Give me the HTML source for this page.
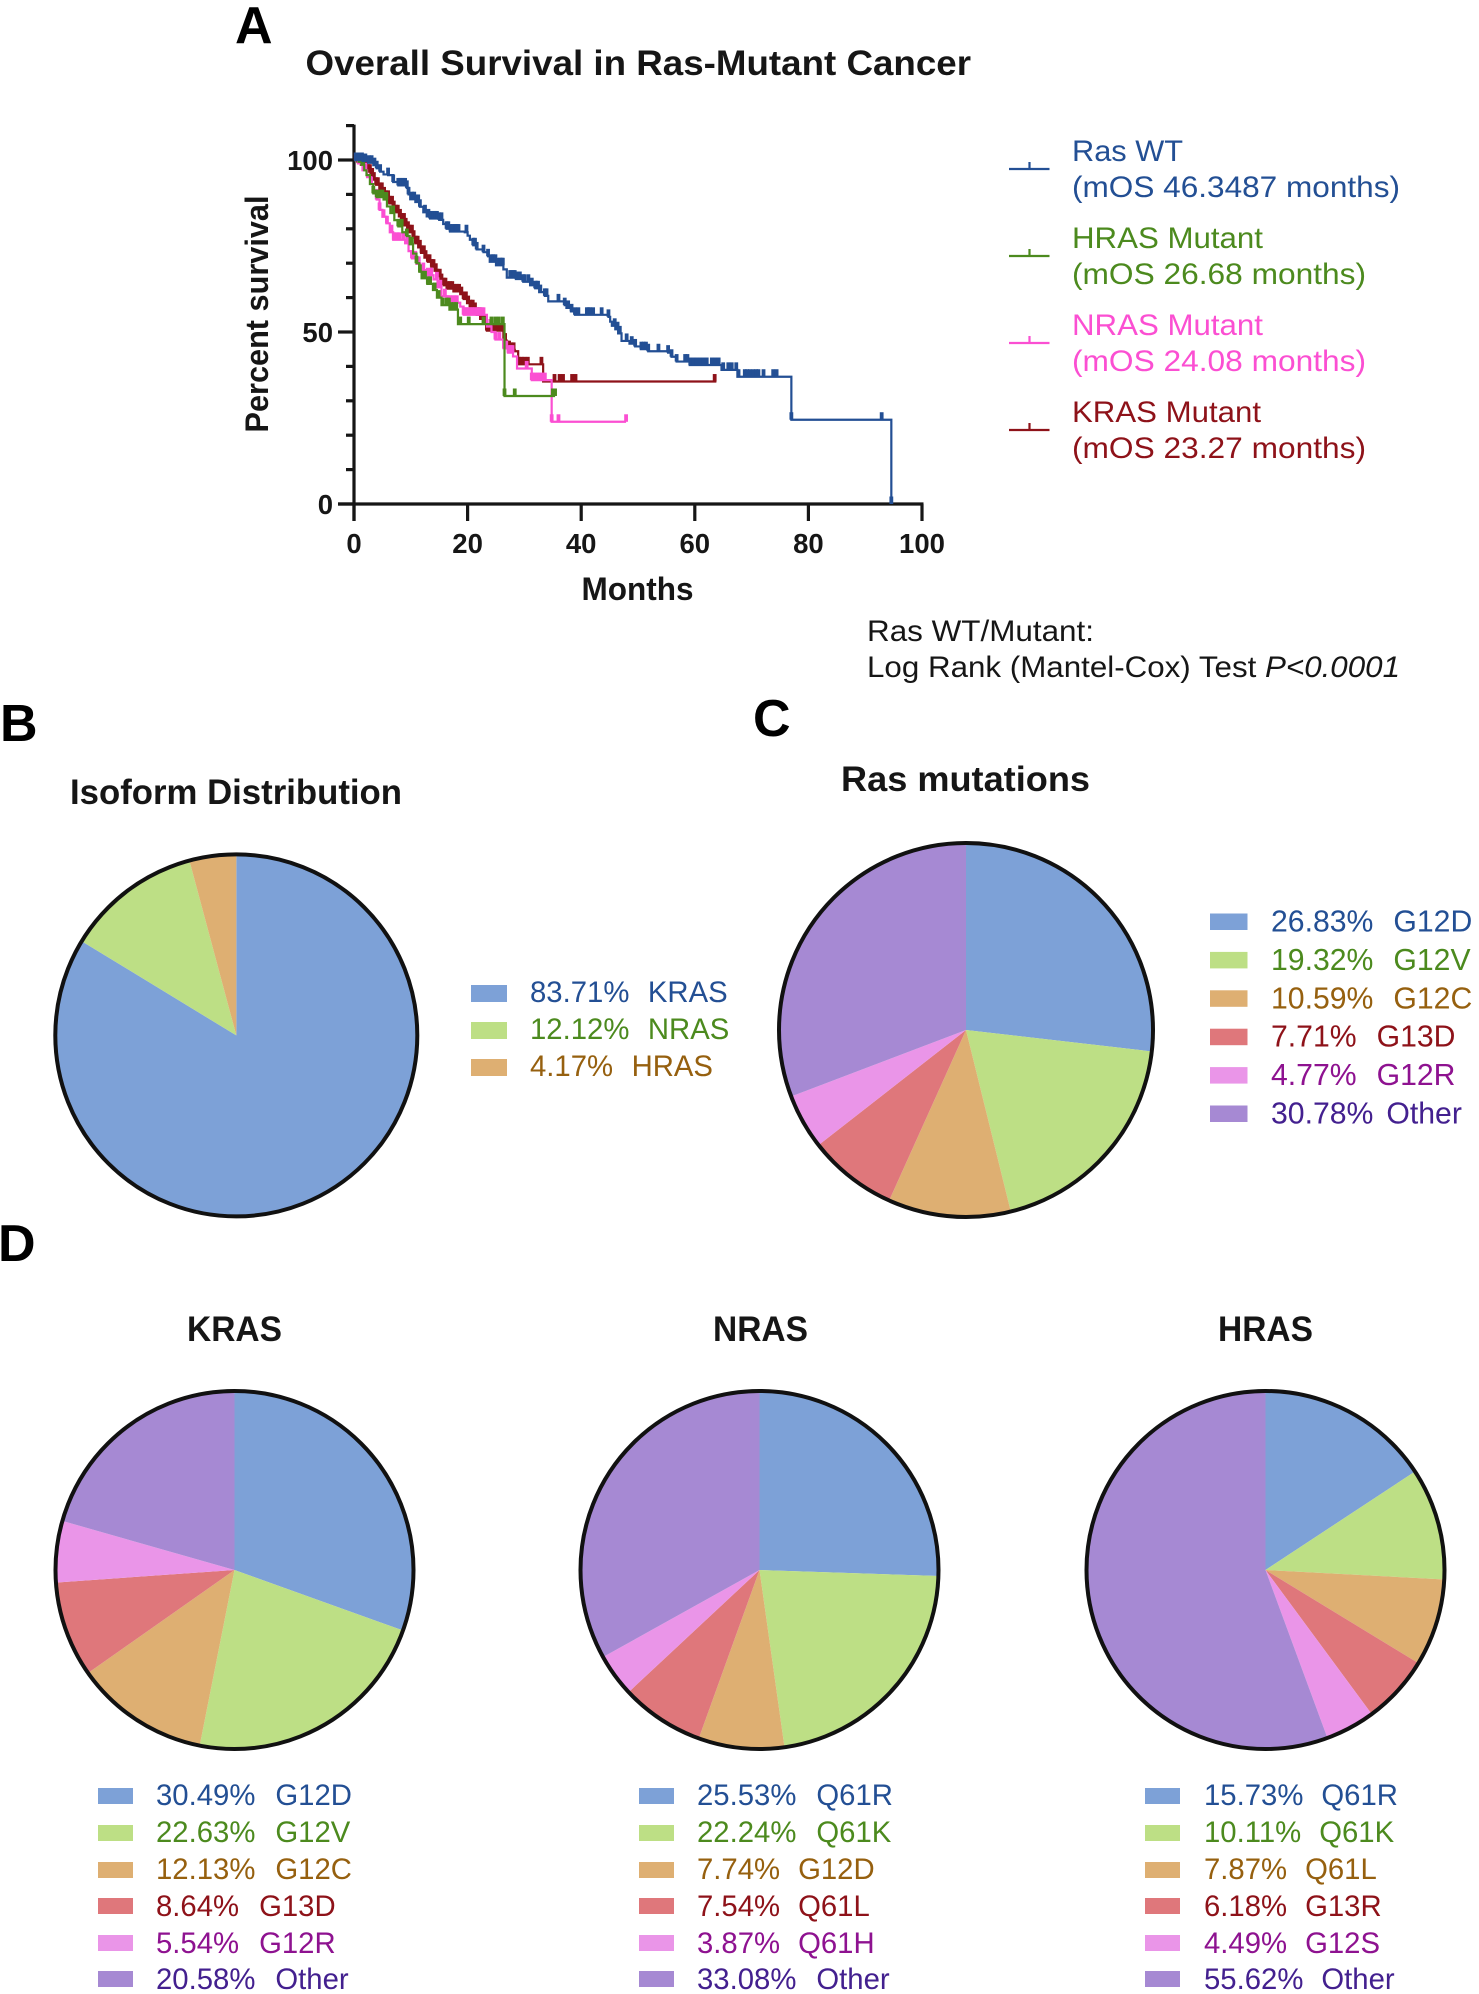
<!DOCTYPE html>
<html lang="en">
<head>
<meta charset="utf-8">
<title>Overall Survival in Ras-Mutant Cancer</title>
<style>
html,body{margin:0;padding:0;background:#fff;}
svg{display:block;font-family:"Liberation Sans",sans-serif;}
.bold{font-weight:700;fill:#161616;}
.panel{font-weight:700;fill:#000;font-size:52px;}
.leg{font-size:29.3px;}
.legc{font-size:30.2px;}
</style>
</head>
<body>
<svg id="figure" width="1479" height="1994" viewBox="0 0 1479 1994" xmlns="http://www.w3.org/2000/svg">
<rect width="1479" height="1994" fill="#fff"/>

<text class="panel" x="235" y="43">A</text>
<text class="bold" x="305.5" y="75" font-size="35.5" textLength="665.5" lengthAdjust="spacingAndGlyphs">Overall Survival in Ras-Mutant Cancer</text>

<g id="km-axes"></g>
<g id="km-series"></g>

<text class="bold" transform="translate(268,314) rotate(-90)" text-anchor="middle" font-size="32" textLength="237" lengthAdjust="spacingAndGlyphs">Percent survival</text>
<text class="bold" x="581.5" y="600" font-size="32.5" textLength="112" lengthAdjust="spacingAndGlyphs">Months</text>

<g font-size="30">
  <g fill="#234f94">
    <path d="M1009 169H1049.5M1029.5 169V162" stroke="#234f94" stroke-width="2.2" fill="none"/>
    <text x="1072" y="161" textLength="111" lengthAdjust="spacingAndGlyphs">Ras WT</text>
    <text x="1072" y="197" textLength="328" lengthAdjust="spacingAndGlyphs">(mOS 46.3487 months)</text>
  </g>
  <g fill="#4c8a1e">
    <path d="M1009 256H1049.5M1029.5 256V249" stroke="#4c8a1e" stroke-width="2.2" fill="none"/>
    <text x="1072" y="248" textLength="191" lengthAdjust="spacingAndGlyphs">HRAS Mutant</text>
    <text x="1072" y="284" textLength="294" lengthAdjust="spacingAndGlyphs">(mOS 26.68 months)</text>
  </g>
  <g fill="#fb4fd2">
    <path d="M1009 343H1049.5M1029.5 343V336" stroke="#fb4fd2" stroke-width="2.2" fill="none"/>
    <text x="1072" y="335" textLength="191" lengthAdjust="spacingAndGlyphs">NRAS Mutant</text>
    <text x="1072" y="371" textLength="294" lengthAdjust="spacingAndGlyphs">(mOS 24.08 months)</text>
  </g>
  <g fill="#8e1219">
    <path d="M1009 430H1049.5M1029.5 430V423" stroke="#8e1219" stroke-width="2.2" fill="none"/>
    <text x="1072" y="422" textLength="189" lengthAdjust="spacingAndGlyphs">KRAS Mutant</text>
    <text x="1072" y="458" textLength="294" lengthAdjust="spacingAndGlyphs">(mOS 23.27 months)</text>
  </g>
</g>

<text x="867" y="641" font-size="30" fill="#161616" textLength="227" lengthAdjust="spacingAndGlyphs">Ras WT/Mutant:</text>
<text x="867" y="677" font-size="30" fill="#161616" textLength="533" lengthAdjust="spacingAndGlyphs">Log Rank (Mantel-Cox) Test <tspan font-style="italic">P&lt;0.0001</tspan></text>

<text class="panel" x="0" y="741">B</text>
<text class="bold" x="70" y="804" font-size="35" textLength="332" lengthAdjust="spacingAndGlyphs">Isoform Distribution</text>
<g id="pie-isoform"></g>
<g class="leg">
  <g><rect x="471" y="985" width="36" height="17" fill="#7da1d7"/><text x="530" y="1002" fill="#234f94">83.71%<tspan dx="18.5">KRAS</tspan></text></g>
  <g><rect x="471" y="1022" width="36" height="17" fill="#bddf85"/><text x="530" y="1039" fill="#4c8a1e">12.12%<tspan dx="18.5">NRAS</tspan></text></g>
  <g><rect x="471" y="1059" width="36" height="17" fill="#deaf72"/><text x="530" y="1076" fill="#96600f">4.17%<tspan dx="18.5">HRAS</tspan></text></g>
</g>

<text class="panel" x="753" y="736">C</text>
<text class="bold" x="841" y="791" font-size="35" textLength="249" lengthAdjust="spacingAndGlyphs">Ras mutations</text>
<g id="pie-mutations"></g>
<g class="legc">
  <g><rect x="1210" y="913.5" width="37.5" height="16.5" fill="#7da1d7"/><text x="1271" y="931.5" fill="#234f94">26.83%<tspan dx="20">G12D</tspan></text></g>
  <g><rect x="1210" y="951.9" width="37.5" height="16.5" fill="#bddf85"/><text x="1271" y="969.9" fill="#4c8a1e">19.32%<tspan dx="20">G12V</tspan></text></g>
  <g><rect x="1210" y="990.3" width="37.5" height="16.5" fill="#deaf72"/><text x="1271" y="1008.3" fill="#96600f">10.59%<tspan dx="20">G12C</tspan></text></g>
  <g><rect x="1210" y="1028.7" width="37.5" height="16.5" fill="#df777b"/><text x="1271" y="1046.7" fill="#8e1219">7.71%<tspan dx="20">G13D</tspan></text></g>
  <g><rect x="1210" y="1067.1" width="37.5" height="16.5" fill="#ea95e8"/><text x="1271" y="1085.1" fill="#8e1290">4.77%<tspan dx="20">G12R</tspan></text></g>
  <g><rect x="1210" y="1105.5" width="37.5" height="16.5" fill="#a689d3"/><text x="1271" y="1123.5" fill="#43208f">30.78%<tspan dx="13">Other</tspan></text></g>
</g>

<text class="panel" x="-2" y="1261">D</text>
<text class="bold" x="234.5" y="1341" font-size="35" text-anchor="middle" textLength="95" lengthAdjust="spacingAndGlyphs">KRAS</text>
<text class="bold" x="760.5" y="1341" font-size="35" text-anchor="middle" textLength="95" lengthAdjust="spacingAndGlyphs">NRAS</text>
<text class="bold" x="1265.5" y="1341" font-size="35" text-anchor="middle" textLength="95" lengthAdjust="spacingAndGlyphs">HRAS</text>
<g id="pie-kras"></g>
<g id="pie-nras"></g>
<g id="pie-hras"></g>

<g class="leg">
  <g><rect x="98" y="1788" width="35" height="16" fill="#7da1d7"/><text x="156" y="1805" fill="#234f94">30.49%<tspan dx="20">G12D</tspan></text></g>
  <g><rect x="98" y="1825" width="35" height="16" fill="#bddf85"/><text x="156" y="1842" fill="#4c8a1e">22.63%<tspan dx="20">G12V</tspan></text></g>
  <g><rect x="98" y="1862" width="35" height="16" fill="#deaf72"/><text x="156" y="1879" fill="#96600f">12.13%<tspan dx="20">G12C</tspan></text></g>
  <g><rect x="98" y="1898" width="35" height="16" fill="#df777b"/><text x="156" y="1916" fill="#8e1219">8.64%<tspan dx="20">G13D</tspan></text></g>
  <g><rect x="98" y="1935" width="35" height="16" fill="#ea95e8"/><text x="156" y="1953" fill="#8e1290">5.54%<tspan dx="20">G12R</tspan></text></g>
  <g><rect x="98" y="1971" width="35" height="16" fill="#a689d3"/><text x="156" y="1989" fill="#43208f">20.58%<tspan dx="20">Other</tspan></text></g>
</g>
<g class="leg">
  <g><rect x="639" y="1788" width="35" height="16" fill="#7da1d7"/><text x="697" y="1805" fill="#234f94">25.53%<tspan dx="20">Q61R</tspan></text></g>
  <g><rect x="639" y="1825" width="35" height="16" fill="#bddf85"/><text x="697" y="1842" fill="#4c8a1e">22.24%<tspan dx="20">Q61K</tspan></text></g>
  <g><rect x="639" y="1862" width="35" height="16" fill="#deaf72"/><text x="697" y="1879" fill="#96600f">7.74%<tspan dx="18">G12D</tspan></text></g>
  <g><rect x="639" y="1898" width="35" height="16" fill="#df777b"/><text x="697" y="1916" fill="#8e1219">7.54%<tspan dx="18">Q61L</tspan></text></g>
  <g><rect x="639" y="1935" width="35" height="16" fill="#ea95e8"/><text x="697" y="1953" fill="#8e1290">3.87%<tspan dx="18">Q61H</tspan></text></g>
  <g><rect x="639" y="1971" width="35" height="16" fill="#a689d3"/><text x="697" y="1989" fill="#43208f">33.08%<tspan dx="20">Other</tspan></text></g>
</g>
<g class="leg">
  <g><rect x="1145" y="1788" width="35" height="16" fill="#7da1d7"/><text x="1204" y="1805" fill="#234f94">15.73%<tspan dx="18">Q61R</tspan></text></g>
  <g><rect x="1145" y="1825" width="35" height="16" fill="#bddf85"/><text x="1204" y="1842" fill="#4c8a1e">10.11%<tspan dx="18">Q61K</tspan></text></g>
  <g><rect x="1145" y="1862" width="35" height="16" fill="#deaf72"/><text x="1204" y="1879" fill="#96600f">7.87%<tspan dx="18">Q61L</tspan></text></g>
  <g><rect x="1145" y="1898" width="35" height="16" fill="#df777b"/><text x="1204" y="1916" fill="#8e1219">6.18%<tspan dx="18">G13R</tspan></text></g>
  <g><rect x="1145" y="1935" width="35" height="16" fill="#ea95e8"/><text x="1204" y="1953" fill="#8e1290">4.49%<tspan dx="18">G12S</tspan></text></g>
  <g><rect x="1145" y="1971" width="35" height="16" fill="#a689d3"/><text x="1204" y="1989" fill="#43208f">55.62%<tspan dx="18">Other</tspan></text></g>
</g>
</svg>

<script>
/* ---------- survival data ---------- */
var xTickLabels = [0, 20, 40, 60, 80, 100];
var yTickLabels = [0, 50, 100];
var yMinorTicks = [10, 20, 30, 40, 60, 70, 80, 90, 110];

var wtMonths = [0,1.5,2.5,3.4,4,4.6,5.2,6,6.9,7.8,9.3,9.6,9.9,10.8,11.6,12.2,12.8,13.4,15,15.7,16.3,16.9,19.5,20,20.4,21,21.6,22.8,23.6,23.9,25,26.3,26.9,28.5,29.8,31,31.9,32.6,33.6,34.2,36.6,37.1,37.4,38.2,38.9,44.8,45.1,45.4,46,46.5,47.1,48.5,49.5,50.5,51.8,55.3,55.9,56.8,59.1,64.7,67.5,77,94.6];
var wtSurvival = [100,99.7,99.2,98.5,97.6,96.6,95.8,95.6,93.6,92.6,91.9,90,88.6,87.8,86.4,84.8,83.6,83,82.6,81.4,80,79.2,79,78,76.8,75.2,74,73.2,72,70.4,69.4,68.2,65.8,65.4,64.6,63.6,62.7,61.6,60.5,58.9,58.9,57.8,57,56,55,54.4,53,51.8,50.8,49.6,47.4,46.6,45.8,45,44.4,44,42.8,41.4,40.4,39,37,24.5,0];
var wtCensored = [0.3,0.8,1.4,2,2.6,3.1,3.6,4,4.6,6,6.9,7.8,8.1,8.4,8.7,9,9.3,9.6,10.2,10.6,11,11.3,11.6,12.5,13.1,13.4,13.7,14,14.3,14.6,15,15.4,16.3,16.6,17,17.4,17.8,18.1,18.4,19.8,21,21.3,21.6,22.8,23.6,24.2,24.5,24.9,25.3,25.7,26,26.2,27.5,27.7,28.1,28.3,28.6,29.2,29.8,30,30.7,31.3,31.9,32.1,32.4,32.8,33.6,33.9,36,37.1,37.7,38.3,38.9,39.5,41,41.3,41.6,42.1,43.6,44.8,45.9,46.4,46.8,48,48.9,49.5,50.6,51,51.4,51.8,53.6,55.3,55.9,56.8,58.3,58.7,59.2,59.8,60.3,60.9,61.5,62.1,63,63.6,64.2,65,65.9,66.5,67.3,67.7,68.8,69.2,69.7,70.3,70.8,71.2,72.1,73.8,74.4,77,92.9,94.6];

var hrasMonths = [0,0.8,1.3,1.8,2.2,2.8,3.4,4,5.2,5.8,6.4,7.1,7.8,8.5,9.3,9.8,10.4,11,11.5,11.9,12.9,13.9,14.6,15.4,16.8,18.3,26.5];
var hrasSurvival = [100,99.5,98.6,97,95.6,93,90.3,89.2,88.5,86.5,84.6,82.5,80.7,79,77.9,75.5,72.8,70,67.5,65.6,64,62.2,60,57.8,56.5,52.3,31.4];
var hrasEndMonth = 35.4;
var hrasCensored = [0.5,1,1.6,3.4,4,4.6,5,5.4,5.7,6.9,7.8,8.4,9.3,10.2,11,11.6,12.1,12.5,13,13.4,14.2,14.9,15.6,16.3,16.7,17.1,17.6,18,18.7,20.2,22.8,24.2,24.9,25.5,26.2,26.5,28.3,35,35.4];

var nrasMonths = [0,0.7,1.5,2.3,3,3.4,4,4.5,5,5.7,6.3,6.9,9,9.6,10.2,11,11.6,12.8,14,14.7,15.4,16.3,18.7,19.3,23.4,24.2,24.9,26.3,27.1,28,28.7,31.3,34.8];
var nrasSurvival = [100,99,97,95,93,91.3,88.5,85.5,83.5,81.6,79,76.8,75.8,73.5,71.4,69.8,68,66.5,65.3,63,60.4,58.5,57.4,55,51.6,50,47.8,45.3,44,42.9,39.4,36,23.9];
var nrasEndMonth = 47.9;
var nrasCensored = [1,2,3,4,4.5,5.2,5.8,6.6,7,7.5,8,8.7,9.4,10.2,10.8,11.4,12.2,13,13.6,14.6,15.2,16,16.5,16.9,17.5,18.1,19.3,19.6,19.9,20.2,20.5,20.8,21,21.3,21.6,21.9,22.2,22.5,22.8,24,24.9,25.6,26.4,26.8,27.2,27.6,27.9,30.4,31.3,31.6,31.9,32.3,32.6,33,33.3,33.6,34.8,36,47.9];

var krasMonths = [0,0.6,1.2,1.8,2.4,2.9,3.4,3.9,4.5,5,5.6,6.2,6.8,7.3,7.9,8.4,8.9,9.4,9.8,10.3,10.8,11.3,11.8,12.4,13,13.6,14.2,14.7,15.2,15.8,16.3,17.5,18.7,19.3,19.9,20.5,21,21.6,22.2,22.8,23.4,26.3,26.9,27.6,28.3,28.9,33.3];
var krasSurvival = [100,99.4,98.6,97.6,96.6,95.5,94.3,92.8,91.3,90,89,87.4,86,84.8,83.6,82.4,81,80,79,77.4,75.8,74.6,73,71.6,70.4,69,67.8,66.2,64.8,63.6,62.6,61.8,61,59.6,58.4,57.2,56.4,55,53.8,52.8,50.4,47.5,45.3,44.8,44.4,40.6,35.6];
var krasEndMonth = 63.8;
var krasCensored = [0.3,0.7,1,1.4,1.7,2.1,2.5,2.8,3.2,3.5,3.9,4.2,4.6,4.9,5.3,5.6,6,6.3,6.7,7,7.4,7.7,8.1,8.4,8.8,9.1,9.5,9.8,10.2,10.5,10.9,11.2,11.6,11.9,12.3,12.6,13,13.3,13.7,14,14.4,14.7,15.1,15.4,15.8,16.1,16.5,16.9,17.3,17.7,18.1,18.5,18.9,19.3,19.7,20.1,20.5,20.9,21.3,21.7,22.1,22.5,23,23.4,23.8,24.2,24.6,25,25.4,25.8,26.2,26.6,27,27.3,27.7,28.1,29,29.5,30,30.6,33,35.3,36.2,36.8,38.4,39,63.5];

/* ---------- pie data (legend percentages) ---------- */
var isoformValues = [83.71, 12.12, 4.17];
var isoformColors = ["#7da1d7", "#bddf85", "#deaf72"];
var mutationValues = [26.83, 19.32, 10.59, 7.71, 4.77, 30.78];
var krasValues = [30.49, 22.63, 12.13, 8.64, 5.54, 20.58];
var nrasValues = [25.53, 22.24, 7.74, 7.54, 3.87, 33.08];
var hrasValues = [15.73, 10.11, 7.87, 6.18, 4.49, 55.62];
var sliceColors = ["#7da1d7", "#bddf85", "#deaf72", "#df777b", "#ea95e8", "#a689d3"];

var NS = "http://www.w3.org/2000/svg";
function mk(tag, parent, attrs) {
  var el = document.createElementNS(NS, tag);
  for (var k in attrs) { el.setAttribute(k, attrs[k]); }
  parent.appendChild(el);
  return el;
}

/* axis functions */
function xScale(month) { return 354 + month * 5.68; }
function yScale(pct) { return 504 - pct * 3.44; }

function drawAxes() {
  var g = document.getElementById("km-axes");
  var axisStyle = { stroke: "#161616", "stroke-width": 3.2, fill: "none" };
  var yAxis = mk("line", g, Object.assign({ x1: xScale(0), x2: xScale(0), y1: yScale(110) - 1, y2: 521 }, axisStyle));
  
  
  var xAxis = mk("line", g, Object.assign({ x1: 338, x2: xScale(100) + 1.5, y1: yScale(0), y2: yScale(0) }, axisStyle));
  
  
  yMinorTicks.forEach(function (v) {
    var t = mk("line", g, Object.assign({ x1: 346, x2: xScale(0), y1: yScale(v), y2: yScale(v) }, axisStyle));
    
    
  });
  yTickLabels.forEach(function (v) {
    var t = mk("line", g, Object.assign({ x1: 338, x2: xScale(0), y1: yScale(v), y2: yScale(v) }, axisStyle));
    
    
    var lab = mk("text", g, { x: 333, y: yScale(v) + 10, "text-anchor": "end", "font-size": 27.5, "class": "bold" });
    lab.textContent = String(v);
    
    
  });
  xTickLabels.forEach(function (v) {
    var t = mk("line", g, Object.assign({ x1: xScale(v), x2: xScale(v), y1: yScale(0), y2: 521 }, axisStyle));
    
    
    var lab = mk("text", g, { x: xScale(v), y: 553, "text-anchor": "middle", "font-size": 27.5, "class": "bold" });
    lab.textContent = String(v);
    
    
  });
}

function survivalAt(months, values, m) {
  var v = values[0];
  for (var i = 0; i < months.length; i++) { if (months[i] <= m) { v = values[i]; } }
  return v;
}

function drawCurve(name, months, values, censored, endMonth, color) {
  var root = document.getElementById("km-series");
  var g = mk("g", root, {});
  
  
  var d = "M" + xScale(months[0]) + " " + yScale(values[0]);
  for (var i = 1; i < months.length; i++) {
    d += "H" + xScale(months[i]) + "V" + yScale(values[i]);
  }
  d += "H" + xScale(endMonth);
  var line = mk("path", g, { d: d, fill: "none", stroke: color, "stroke-width": 2.2 });
  
  
  censored.forEach(function (m) {
    var y = yScale(survivalAt(months, values, m));
    var tick = mk("line", g, { x1: xScale(m), x2: xScale(m), y1: y, y2: y - 7.5, stroke: color, "stroke-width": 3.8 });
    
    
  });
}

function drawPie(id, name, values, colors, cx, cy, rOuter) {
  var g = document.getElementById(id);
  var total = values.reduce(function (a, b) { return a + b; }, 0);
  var r = rOuter - 1.5;
  var angle = -Math.PI / 2;
  values.forEach(function (v, i) {
    var next = angle + v / total * Math.PI * 2;
    var large = next - angle > Math.PI ? 1 : 0;
    var d = "M" + cx + " " + cy +
      "L" + (cx + r * Math.cos(angle)) + " " + (cy + r * Math.sin(angle)) +
      "A" + r + " " + r + " 0 " + large + " 1 " + (cx + r * Math.cos(next)) + " " + (cy + r * Math.sin(next)) + "Z";
    var slice = mk("path", g, { d: d, fill: colors[i] });
    
    
    angle = next;
  });
  var ring = mk("circle", g, { cx: cx, cy: cy, r: rOuter - 2, fill: "none", stroke: "#111", "stroke-width": 4 });
  
  
}

drawAxes();
drawCurve("kras", krasMonths, krasSurvival, krasCensored, krasEndMonth, "#8e1219");
drawCurve("nras", nrasMonths, nrasSurvival, nrasCensored, nrasEndMonth, "#fb4fd2");
drawCurve("hras", hrasMonths, hrasSurvival, hrasCensored, hrasEndMonth, "#4c8a1e");
drawCurve("ras-wt", wtMonths, wtSurvival, wtCensored, 94.6, "#234f94");

drawPie("pie-isoform", "isoform", isoformValues, isoformColors, 236.3, 1035.4, 183);
drawPie("pie-mutations", "mutations", mutationValues, sliceColors, 966, 1030, 189);
drawPie("pie-kras", "kras", krasValues, sliceColors, 234.5, 1570, 181);
drawPie("pie-nras", "nras", nrasValues, sliceColors, 759.5, 1570, 181);
drawPie("pie-hras", "hras", hrasValues, sliceColors, 1265.5, 1570, 181);
</script>
</body>
</html>
